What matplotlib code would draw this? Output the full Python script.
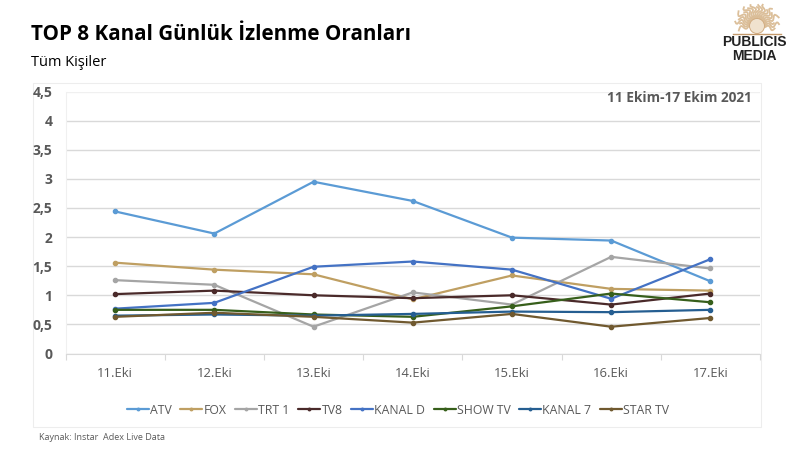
import numpy as np
import matplotlib
matplotlib.use('Agg')
import matplotlib.pyplot as plt
from matplotlib.patches import Rectangle

days = ['11.Eki', '12.Eki', '13.Eki', '14.Eki', '15.Eki', '16.Eki', '17.Eki']
yticks = [0, 0.5, 1, 1.5, 2, 2.5, 3, 3.5, 4, 4.5]
ylabels = ['0', '0,5', '1', '1,5', '2', '2,5', '3', '3,5', '4', '4,5']

atv = [2.44, 2.06, 2.95, 2.62, 1.99, 1.94, 1.24]
fox = [1.56, 1.44, 1.36, 0.93, 1.34, 1.11, 1.08]
trt1 = [1.26, 1.18, 0.46, 1.05, 0.84, 1.66, 1.46]
tv8 = [1.02, 1.08, 1.0, 0.95, 1.0, 0.84, 1.03]
kanald = [0.77, 0.87, 1.49, 1.58, 1.44, 0.94, 1.62]
showtv = [0.75, 0.75, 0.67, 0.63, 0.81, 1.03, 0.88]
kanal7 = [0.65, 0.67, 0.65, 0.68, 0.72, 0.71, 0.75]
startv = [0.63, 0.70, 0.63, 0.53, 0.68, 0.46, 0.61]

names = ['ATV', 'FOX', 'TRT 1', 'TV8', 'KANAL D', 'SHOW TV', 'KANAL 7', 'STAR TV']
series = [atv, fox, trt1, tv8, kanald, showtv, kanal7, startv]
colors = ['#5B9BD5', '#BF9F62', '#A5A5A5', '#4A2A2A', '#4472C4', '#375F1B', '#255E91', '#70592F']

W, H = 800, 449
plt.rcParams['font.family'] = ['Open Sans', 'DejaVu Sans']
fig = plt.figure(figsize=(W / 100, H / 100), dpi=100, facecolor='white')


def px_box(x0, y0, x1, y1):
    return [x0 / W, 1 - y1 / H, (x1 - x0) / W, (y1 - y0) / H]


def fx(x):
    return x / W


def fy(y):
    return 1 - y / H


# chart frame, behind the axes
fig.add_artist(Rectangle((fx(33), fy(427)), 728 / W, 344 / H, transform=fig.transFigure,
                         fc='white', ec='#EDEDED', lw=0.8, zorder=-1))

ax = fig.add_axes(px_box(65.5, 91.5, 760, 353.5))
ax.patch.set_alpha(0)
x = np.arange(len(days))
for vals, name, c in zip(series, names, colors):
    ax.plot(x, vals, color=c, lw=1.6, marker='o', ms=3, label=name, solid_capstyle='round')

ax.set_xlim(-0.5, 6.5)
ax.set_ylim(0, 4.5)
ax.set_yticks(yticks)
ax.set_yticklabels(ylabels, fontsize=10, fontweight='bold', color='#595959')
ax.set_xticks(x)
ax.set_xticklabels(days, fontsize=9.4, color='#595959')
ax.set_xticks(np.arange(-0.5, 7), minor=True)
ax.tick_params(axis='y', length=0, pad=9.5)
ax.tick_params(axis='x', which='major', length=0, pad=9.5)
ax.tick_params(axis='x', which='minor', length=4, color='#D9D9D9', width=0.8)
ax.grid(axis='y', color='#D9D9D9', lw=1)
ax.get_ygridlines()[-1].set_color('#F0F0F0')
ax.set_axisbelow(True)
for s in ['top', 'right']:
    ax.spines[s].set_visible(False)
ax.spines['left'].set_color('#F0F0F0')
ax.spines['bottom'].set_color('#D9D9D9')

ax.text(0.989, 0.975, '11 Ekim-17 Ekim 2021', transform=ax.transAxes, ha='right', va='center',
        fontsize=9.8, fontweight='bold', color='#595959')

fig.legend(*ax.get_legend_handles_labels(), loc='center', bbox_to_anchor=(fx(398), fy(410)), ncol=8,
           frameon=False, fontsize=8.8, labelcolor='#595959', handlelength=1.8, handletextpad=0.1,
           columnspacing=0.7, borderpad=0, markerscale=0.6)

fig.text(fx(31), fy(34), 'TOP 8 Kanal Günlük İzlenme Oranları', fontsize=14.85, fontweight='bold',
         color='black', va='center')
fig.text(fx(31), fy(62), 'Tüm Kişiler', fontsize=10.5, color='black', va='center')
fig.text(fx(39), fy(438), 'Kaynak: Instar  Adex Live Data', fontsize=6.5, color='#595959', va='center')

# logo: sun emblem and name
logo = fig.add_axes(px_box(725, 2, 789, 37))
logo.set_xlim(-32, 32)
logo.set_ylim(0, 35)
logo.axis('off')
ray_angles = np.linspace(-0.2, np.pi + 0.2, 19)
ray_ends = [18, 22, 17, 23, 19, 22, 18, 21, 20, 18, 21, 19, 22, 18, 23, 19, 22, 17, 19]
for a, end in zip(ray_angles, ray_ends):
    r = np.linspace(7, end, 14)
    wob = 0.14 * np.sin(r * 0.7)
    logo.plot(r * np.cos(a + wob), 12 + r * np.sin(a + wob), color='#D8B88F', lw=1.3, alpha=0.9)
logo.add_patch(plt.Circle((0, 11), 7.5, fc='#F0E2CE', ec='#D2AD82', lw=0.7, zorder=3))
logo.plot([-24, 24], [3, 3], color='#C49A6C', lw=1, zorder=4)
fig.text(fx(754), fy(42), 'PUBLICIS', family='Liberation Sans', fontsize=10, fontweight='bold',
         color='#222222', ha='center', va='center')
fig.text(fx(754), fy(56), 'MEDIA', family='Liberation Sans', fontsize=10, fontweight='bold',
         color='#222222', ha='center', va='center')

fig.savefig('out.png', dpi=100)
